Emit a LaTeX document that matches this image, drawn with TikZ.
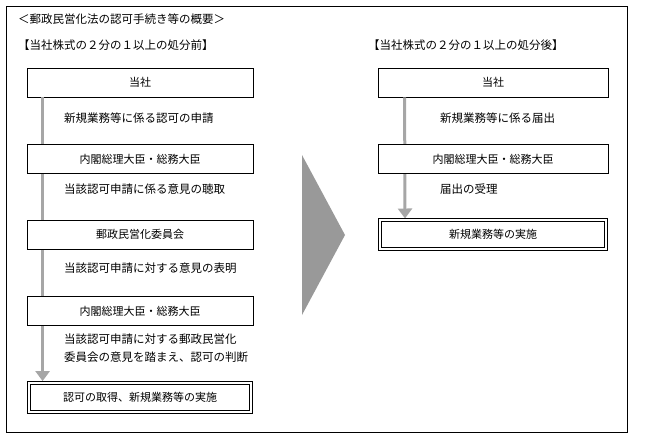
\documentclass[tikz,border=0pt]{standalone}
\usepackage{fontspec}
\setmainfont{Noto Sans CJK JP}
\usetikzlibrary{arrows.meta,calc}
\begin{document}
\begin{tikzpicture}[x=1pt,y=-1pt,
  box/.style={draw,line width=0.8pt,minimum height=29pt,inner sep=0pt,font=\fontsize{11}{13}\selectfont},
  dbox/.style={box,double,double distance=1.5pt},
  lbl/.style={anchor=west,font=\fontsize{11.5}{18}\selectfont,inner sep=0pt,align=left},
  flow/.style={draw=black!35,line width=3pt},
  flowa/.style={flow,-{Triangle[length=10pt,width=14pt]}}]
\useasboundingbox (0,0) rectangle (647,440);
\draw[line width=0.8pt] (6,6) rectangle (627,432);
\node[lbl] (t) at (18,19) {＜郵政民営化法の認可手続き等の概要＞};
\node[lbl] (sl) at (18,45) {【当社株式の２分の１以上の処分前】};
\node[lbl] (sr) at (368,45) {【当社株式の２分の１以上の処分後】};
% left
\node[box,minimum width=226pt] (a1) at (140,82.5) {当社};
\node[box,minimum width=222pt] (a5) at (140,397.5) {};
\coordinate (p1) at ($(a1.south west)+(16,0)$);
\coordinate (p2) at ($(a5.north west)+(14,-1.5)$);
\draw[flowa] (p1) -- (p1|-p2);
\node[dbox,minimum width=222pt] (a5b) at (140,397.5) {認可の取得、新規業務等の実施};
\node[box,minimum width=226pt,fill=white] (a2) at (140,159) {内閣総理大臣・総務大臣};
\node[box,minimum width=226pt,fill=white] (a3) at (140,234.5) {郵政民営化委員会};
\node[box,minimum width=226pt,fill=white] (a4) at (140,311) {内閣総理大臣・総務大臣};
\node[lbl] (l1) at (64,118) {新規業務等に係る認可の申請};
\node[lbl] (l2) at (64,189) {当該認可申請に係る意見の聴取};
\node[lbl] (l3) at (64,268) {当該認可申請に対する意見の表明};
\node[lbl,text width=220pt] (l4) at (64,348) {当該認可申請に対する郵政民営化\\委員会の意見を踏まえ、認可の判断};
% big arrow
\fill[black!40] (302,155) -- (345,235) -- (302,315) -- cycle;
% right
\node[box,minimum width=230pt] (b1) at (493,82.5) {当社};
\coordinate (q1) at ($(b1.south west)+(27,0)$);
\coordinate (q2) at (405,218.5);
\draw[flowa] (q1) -- (q2);
\node[box,minimum width=230pt,fill=white] (b2) at (493,159) {内閣総理大臣・総務大臣};
\node[dbox,minimum width=226pt] (b3) at (493,234.5) {新規業務等の実施};
\node[lbl] (r1) at (440,118) {新規業務等に係る届出};
\node[lbl] (r2) at (440,189) {届出の受理};
\end{tikzpicture}
\end{document}
